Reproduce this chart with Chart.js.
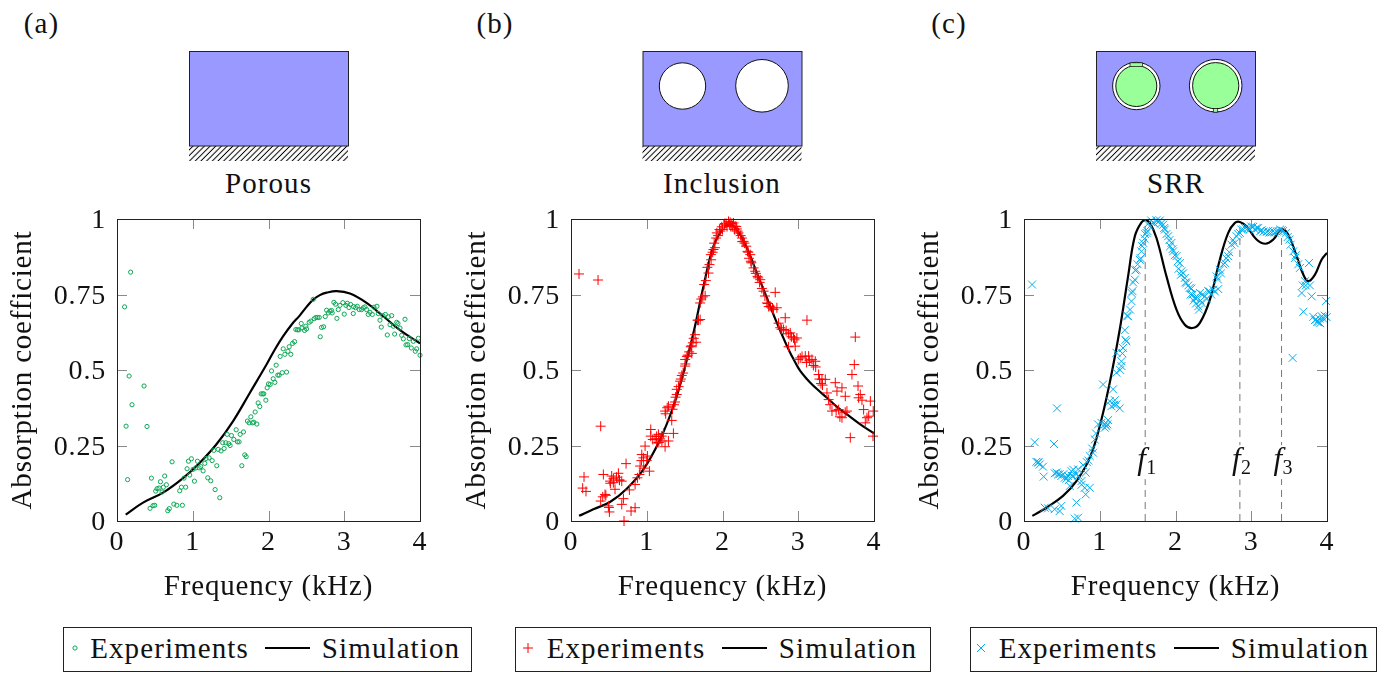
<!DOCTYPE html>
<html>
<head>
<meta charset="utf-8">
<title>Absorption coefficient</title>
<script src="https://cdn.jsdelivr.net/npm/chart.js@4"></script>
<style>
html,body{margin:0;padding:0;background:#fff;}
body{width:1396px;height:673px;position:relative;overflow:hidden;font-family:"Liberation Serif",serif;color:#111;}
canvas.plot{position:absolute;top:205px;}
.lbl{position:absolute;white-space:nowrap;transform:translate(-50%,-50%);font-size:29px;letter-spacing:1.1px;}
.legend{position:absolute;top:627px;height:45px;box-sizing:border-box;border:1px solid #222;}
svg{position:absolute;left:0;top:0;}
</style>
</head>
<body>
<svg width="1396" height="673" id="sketch"></svg>
<canvas class="plot" id="chartA" style="left:0"></canvas>
<canvas class="plot" id="chartB" style="left:454px"></canvas>
<canvas class="plot" id="chartC" style="left:907px"></canvas>
<script>
const xTicks = [0, 1, 2, 3, 4];
const yTicks = [0, 0.25, 0.5, 0.75, 1];
const panelTags = ['(a)', '(b)', '(c)'];
const panelNames = ['Porous', 'Inclusion', 'SRR'];
const xTitle = 'Frequency (kHz)';
const yTitle = 'Absorption coefficient';
const legendNames = ['Experiments', 'Simulation'];

// porous
const expFreqA = [0.10,0.18,0.16,0.357,0.198,0.12,0.396,0.14,0.454,0.436,0.476,0.498,0.67,0.69,0.75,0.79,0.863,0.511,0.529,0.555,0.573,0.595,0.612,0.652,0.63,0.727,0.828,0.85,0.907,0.885,1.022,0.96,0.925,0.943,0.982,1.004,1.04,1.062,1.084,1.106,1.137,1.159,1.176,1.216,1.256,1.317,1.198,1.238,1.295,1.357,1.278,1.335,1.374,1.414,1.396,1.436,1.476,1.493,1.454,1.511,1.542,1.573,1.59,1.612,1.626,1.67,1.687,1.705,1.648,1.722,1.744,1.767,1.789,1.806,1.846,1.824,1.863,1.885,1.903,1.925,1.938,1.965,1.982,2.0,2.022,2.04,2.062,2.084,2.101,2.123,2.141,2.181,2.238,2.154,2.194,2.216,2.256,2.273,2.295,2.317,2.344,2.361,2.383,2.401,2.432,2.441,2.476,2.502,2.493,2.537,2.559,2.59,2.604,2.626,2.648,2.67,2.683,2.7,2.727,2.749,2.767,2.789,2.811,2.833,2.841,2.863,2.885,2.903,2.921,2.943,2.982,3.0,3.022,3.04,3.062,3.084,3.119,3.123,3.15,3.172,3.198,3.229,3.251,3.273,3.295,3.317,3.339,3.37,3.392,3.432,3.449,3.471,3.489,3.511,3.542,3.568,3.581,3.626,3.604,3.648,3.665,3.692,3.709,3.736,3.758,3.78,3.802,3.815,3.837,3.859,3.885,3.912,3.938,3.956,3.978,4.0];
const expAbsA = [0.709,0.824,0.48,0.447,0.385,0.314,0.313,0.137,0.142,0.042,0.051,0.052,0.034,0.041,0.056,0.052,0.052,0.099,0.107,0.109,0.13,0.096,0.112,0.12,0.149,0.196,0.1,0.112,0.112,0.142,0.132,0.152,0.173,0.198,0.206,0.171,0.176,0.198,0.176,0.18,0.166,0.191,0.207,0.209,0.2,0.183,0.143,0.133,0.104,0.077,0.234,0.237,0.232,0.24,0.259,0.259,0.256,0.25,0.287,0.283,0.27,0.302,0.262,0.262,0.287,0.295,0.219,0.213,0.183,0.331,0.325,0.345,0.325,0.327,0.321,0.361,0.391,0.379,0.421,0.421,0.421,0.4,0.441,0.454,0.452,0.497,0.471,0.459,0.516,0.483,0.483,0.491,0.493,0.545,0.57,0.552,0.562,0.577,0.552,0.588,0.594,0.634,0.633,0.633,0.654,0.639,0.631,0.636,0.645,0.658,0.662,0.734,0.67,0.674,0.674,0.674,0.61,0.641,0.643,0.677,0.698,0.689,0.695,0.697,0.689,0.724,0.718,0.671,0.7,0.714,0.723,0.685,0.714,0.721,0.707,0.717,0.687,0.71,0.706,0.711,0.7,0.7,0.706,0.709,0.7,0.684,0.691,0.684,0.708,0.711,0.687,0.665,0.642,0.68,0.684,0.616,0.676,0.68,0.65,0.645,0.619,0.658,0.654,0.639,0.615,0.603,0.668,0.583,0.584,0.604,0.573,0.595,0.562,0.57,0.605,0.549];
const simFreqA = [0.115,0.344,0.608,0.872,1.093,1.313,1.533,1.753,1.974,2.084,2.194,2.304,2.414,2.502,2.59,2.678,2.767,2.9,3.075,3.295,3.515,3.736,4.0];
const simAbsA = [0.021,0.061,0.094,0.142,0.193,0.254,0.331,0.424,0.518,0.568,0.612,0.65,0.681,0.709,0.733,0.748,0.756,0.761,0.753,0.722,0.678,0.632,0.588];

// inclusion
const expFreqB = [0.106,0.357,0.392,0.172,0.154,0.198,0.427,0.537,0.626,0.515,0.559,0.639,0.67,0.581,0.419,0.449,0.392,0.493,0.507,0.7,0.67,0.692,0.793,0.846,0.771,0.727,0.877,0.903,0.912,0.934,0.978,0.956,1.009,1.035,0.846,1.053,1.053,1.11,1.154,1.176,1.132,1.198,1.242,1.286,1.352,1.33,1.242,1.286,1.374,1.396,1.396,1.441,1.463,1.507,1.507,1.542,1.595,1.581,1.608,1.652,1.639,1.683,1.705,1.705,1.74,1.771,1.758,1.78,1.815,1.828,1.846,1.881,1.89,1.916,1.925,1.96,1.991,2.022,2.048,2.079,2.101,2.123,2.145,2.167,2.189,2.211,2.256,2.278,2.313,2.33,2.366,2.374,2.41,2.432,2.463,2.498,2.542,2.696,2.586,2.63,2.718,2.674,2.828,3.115,2.762,2.806,2.894,2.938,2.982,2.96,2.872,3.026,3.093,3.137,3.181,3.225,3.269,3.313,3.357,3.489,3.577,3.511,3.621,3.379,3.401,3.445,3.533,3.577,3.643,3.687,3.753,3.74,3.709,3.789,3.819,3.797,3.841,3.863,3.907,3.952,3.99,3.93,3.885,3.987,
    1.72,1.67,1.62,1.59,1.56,1.53,1.51,1.48,1.45,1.42,1.38,1.36,1.34,1.27,1.25,1.8,1.85,1.87,1.9,1.94,1.97,2.0,2.03,2.06,2.09,2.11,2.13,2.16,2.18,2.2,2.24,2.26,2.29,2.34,2.35,2.38,2.44,2.47,2.49,2.52,2.56,2.6,2.61,2.66,2.74,2.78,2.84,2.87,2.91,2.95,3.0,3.05,3.11,3.15,3.2,3.23,3.28,3.3,3.32,3.42,3.5,3.55,3.62,0.56,0.6,0.64,0.52,0.46,0.5,0.93,0.96,1.0,1.08,1.13,1.16,1.2,1.22];
const expAbsB = [0.818,0.798,0.314,0.146,0.109,0.098,0.154,0.149,0.158,0.132,0.127,0.136,0.132,0.105,0.08,0.088,0.066,0.05,0.03,0,0.055,0.074,0.033,0.044,0.103,0.19,0.143,0.154,0.182,0.22,0.248,0.209,0.215,0.165,0.121,0.303,0.281,0.272,0.287,0.272,0.259,0.281,0.246,0.265,0.29,0.333,0.364,0.38,0.394,0.419,0.436,0.463,0.482,0.513,0.535,0.549,0.555,0.577,0.59,0.592,0.617,0.665,0.667,0.722,0.742,0.746,0.783,0.796,0.821,0.849,0.882,0.899,0.92,0.937,0.954,0.965,0.974,0.981,0.985,0.992,0.989,0.985,0.987,0.976,0.967,0.954,0.937,0.926,0.91,0.893,0.882,0.86,0.838,0.827,0.81,0.799,0.761,0.757,0.722,0.711,0.706,0.7,0.673,0.665,0.64,0.634,0.623,0.606,0.606,0.579,0.577,0.54,0.546,0.546,0.535,0.529,0.485,0.469,0.469,0.458,0.441,0.43,0.413,0.424,0.402,0.364,0.369,0.342,0.364,0.276,0.609,0.518,0.485,0.447,0.419,0.408,0.4,0.369,0.342,0.397,0.364,0.347,0.325,0.281,
    0.735,0.665,0.605,0.58,0.56,0.545,0.52,0.49,0.47,0.445,0.41,0.385,0.37,0.375,0.355,0.84,0.865,0.89,0.905,0.945,0.96,0.965,0.985,0.975,0.98,0.975,0.975,0.965,0.975,0.96,0.945,0.925,0.92,0.89,0.87,0.855,0.82,0.805,0.79,0.77,0.745,0.72,0.71,0.705,0.655,0.635,0.63,0.62,0.61,0.6,0.535,0.545,0.525,0.53,0.515,0.51,0.47,0.455,0.45,0.385,0.365,0.345,0.36,0.14,0.145,0.135,0.125,0.085,0.045,0.2,0.175,0.2,0.27,0.28,0.26,0.265,0.29];
const simFreqB = [0.106,0.295,0.515,0.736,0.956,1.176,1.352,1.485,1.617,1.749,1.881,2.013,2.093,2.189,2.322,2.454,2.586,2.718,2.85,2.916,2.982,3.026,3.093,3.159,3.247,3.379,3.511,3.643,3.819,4.0];
const simAbsB = [0.017,0.039,0.063,0.107,0.171,0.27,0.38,0.491,0.623,0.777,0.91,0.97,0.981,0.965,0.904,0.821,0.739,0.656,0.58,0.546,0.515,0.497,0.476,0.458,0.437,0.408,0.378,0.353,0.32,0.29];

// srr
const expFreqC = [0.106,0.141,0.436,0.396,0.163,0.185,0.207,0.251,0.26,0.405,0.449,0.493,0.537,0.581,0.626,0.648,0.714,0.604,0.273,0.317,0.405,0.471,0.493,0.692,0.67,0.714,0.758,0.815,0.802,0.868,0.815,0.868,0.912,0.934,0.978,1.022,1.11,1.066,1.088,1.044,1.176,1.132,1.154,1.22,1.264,1.286,1.22,1.286,1.22,1.308,1.352,1.33,1.374,1.419,1.432,1.463,1.485,1.529,1.551,1.573,1.617,1.661,1.705,1.749,1.793,1.837,1.859,1.903,1.947,1.969,2.013,2.057,2.079,2.123,2.145,2.189,2.225,2.256,2.3,2.344,2.322,2.388,2.432,2.498,2.564,2.542,2.586,2.652,2.696,2.74,2.806,2.85,2.894,2.96,3.026,3.07,3.137,3.203,3.269,3.335,3.401,3.458,3.502,3.555,3.577,3.643,3.762,3.709,3.775,3.665,3.797,3.687,3.546,3.987,3.819,3.855,3.885,3.93,3.996,
    1.64,1.68,1.72,1.77,1.81,1.85,1.88,1.92,1.93,1.96,1.99,2.03,2.04,2.07,2.10,2.13,2.17,2.2,2.21,2.24,2.27,2.29,2.31,2.33,2.36,2.41,2.45,2.47,2.52,2.56,2.6,2.63,2.67,2.71,2.76,2.78,2.83,2.87,2.92,2.98,3.0,3.05,3.09,3.12,3.16,3.22,3.24,3.29,3.31,3.36,3.38,3.42,3.48,3.52,3.59,3.62,3.68,3.72,3.84,3.87,3.9,3.91,3.95,3.97,
    1.30,1.34,1.36,1.40,1.42,1.44,1.47,1.5,1.54,1.56,1.59,1.6,1.63,1.27,1.19,1.2,1.1,1.07,0.95,0.9,0.85,0.83,0.78,0.76,0.72,0.65,0.63,0.59,0.56,0.52,0.47,0.43,0.19,0.69];
const expAbsC = [0.783,0.261,0.373,0.255,0.196,0.193,0.187,0.18,0.147,0.158,0.154,0.149,0.143,0.149,0.165,0.149,0.171,0.116,0.044,0.042,0.039,0.033,0.05,0.061,0.008,0.011,0.132,0.16,0.11,0.11,0.088,0.215,0.226,0.27,0.32,0.325,0.334,0.309,0.314,0.452,0.436,0.397,0.38,0.386,0.373,0.513,0.491,0.529,0.557,0.573,0.595,0.632,0.678,0.728,0.761,0.799,0.832,0.865,0.893,0.921,0.954,0.976,0.989,0.996,0.995,0.981,0.965,0.943,0.921,0.893,0.877,0.854,0.827,0.805,0.788,0.772,0.75,0.739,0.711,0.722,0.755,0.744,0.761,0.766,0.768,0.81,0.832,0.854,0.877,0.915,0.943,0.954,0.965,0.97,0.974,0.97,0.963,0.957,0.956,0.959,0.963,0.954,0.932,0.893,0.871,0.838,0.854,0.794,0.78,0.755,0.744,0.693,0.54,0.728,0.676,0.667,0.658,0.678,0.675,
    0.985,0.995,0.985,0.99,0.985,0.97,0.95,0.93,0.91,0.90,0.88,0.86,0.835,0.815,0.82,0.79,0.78,0.75,0.77,0.73,0.72,0.74,0.70,0.73,0.75,0.735,0.76,0.75,0.76,0.80,0.82,0.85,0.87,0.89,0.93,0.92,0.95,0.965,0.97,0.965,0.975,0.965,0.97,0.96,0.958,0.96,0.955,0.96,0.955,0.96,0.965,0.96,0.94,0.915,0.88,0.85,0.78,0.78,0.665,0.66,0.67,0.655,0.67,0.68,
    0.555,0.60,0.68,0.70,0.755,0.79,0.83,0.85,0.87,0.91,0.935,0.95,0.96,0.5,0.385,0.40,0.32,0.32,0.29,0.24,0.2,0.195,0.185,0.12,0.15,0.17,0.15,0.135,0.14,0.155,0.155,0.16,0.195,0.155];
const simFreqC = [0.11,0.295,0.515,0.692,0.868,1.0,1.132,1.264,1.374,1.463,1.551,1.604,1.661,1.749,1.881,2.013,2.123,2.225,2.322,2.454,2.586,2.696,2.784,2.85,2.938,3.07,3.189,3.291,3.401,3.489,3.599,3.687,3.753,3.841,3.93,4.0];
const simAbsC = [0.017,0.044,0.083,0.132,0.209,0.314,0.458,0.634,0.81,0.943,0.989,0.996,0.987,0.937,0.81,0.7,0.65,0.639,0.656,0.733,0.866,0.954,0.987,0.99,0.976,0.932,0.918,0.932,0.965,0.948,0.877,0.816,0.794,0.816,0.866,0.888];

const resonanceFreq = [1.6, 2.85, 3.4];
const resonanceTop = [0.99, 0.97, 0.97];
const resonanceNames = ['1', '2', '3'];

const GREEN = '#0aa854';
const RED = '#ff0000';
const BLUE = '#00aeef';
const SERIF = '"Liberation Serif", serif';

function zip(xs, ys){
    return xs.map((x, i) => ({x: x, y: ys[i]}));
}

// inward gray ticks on all four sides + the box
const framePlugin = {
    id: 'frame',
    beforeDraw(chart){
        chart.ctx.letterSpacing = '0.8px';
    },
    afterDatasetsDraw(chart){
        const c = chart.ctx, a = chart.chartArea, sx = chart.scales.x, sy = chart.scales.y;
        c.save();
        c.strokeStyle = '#8a8a8a';
        c.lineWidth = 1;
        xTicks.forEach(t => {
            if(t === 0 || t === 4) return;
            const p = Math.round(sx.getPixelForValue(t)) + .5;
            c.beginPath();
            c.moveTo(p, a.top); c.lineTo(p, a.top + 10);
            c.moveTo(p, a.bottom); c.lineTo(p, a.bottom - 10);
            c.stroke();
        });
        yTicks.forEach(t => {
            if(t === 0 || t === 1) return;
            const p = Math.round(sy.getPixelForValue(t)) + .5;
            c.beginPath();
            c.moveTo(a.left, p); c.lineTo(a.left + 10, p);
            c.moveTo(a.right, p); c.lineTo(a.right - 10, p);
            c.stroke();
        });
        c.strokeStyle = '#222';
        c.lineWidth = 1;
        c.strokeRect(a.left + .5, a.top + .5, a.right - a.left, a.bottom - a.top);
        c.restore();
    }
};

// f1 f2 f3 labels on the srr plot
const resonancePlugin = {
    id: 'resonance',
    afterDatasetsDraw(chart){
        if(chart.canvas.id !== 'chartC') return;
        const c = chart.ctx, sx = chart.scales.x, sy = chart.scales.y;
        resonanceFreq.forEach((f, i) => {
            const px = sx.getPixelForValue(f), py = sy.getPixelForValue(0.195);
            c.save();
            c.fillStyle = '#fff';
            c.fillRect(px - 13, py - 17, 26, 34);
            c.fillStyle = '#111';
            c.textBaseline = 'alphabetic';
            c.font = 'italic 31px ' + SERIF;
            c.fillText('f', px - 8, py + 7);
            c.font = '20px ' + SERIF;
            c.fillText(resonanceNames[i], px + 1, py + 12);
            c.restore();
        });
    }
};

function makeChart(id, freq, abs, simFreq, simAbs, style, color, radius, extra){
    const sets = [
        {
            label: legendNames[0], data: zip(freq, abs), showLine: false, clip: false, order: 2,
            pointStyle: style, pointRadius: radius, pointBorderColor: color, pointBorderWidth: 1,
            pointBackgroundColor: 'rgba(0,0,0,0)'
        },
        {
            label: legendNames[1], data: zip(simFreq, simAbs), showLine: true, order: 3,
            borderColor: '#000', borderWidth: 2.2, pointRadius: 0, tension: 0.4
        }
    ].concat(extra || []);
    return new Chart(document.getElementById(id), {
        type: 'scatter',
        data: {datasets: sets},
        plugins: [framePlugin, resonancePlugin],
        options: {
            responsive: false,
            animation: false,
            layout: {padding: {left: 0, right: 34, top: 14, bottom: 0}},
            plugins: {legend: {display: false}, tooltip: {enabled: false}},
            scales: {
                x: {
                    type: 'linear', min: 0, max: 4,
                    afterBuildTicks(s){ s.ticks = xTicks.map(v => ({value: v})); },
                    afterFit(s){ s.height = 94; s.paddingLeft = 0; s.paddingRight = 0; },
                    grid: {display: false, drawTicks: false},
                    border: {display: false},
                    ticks: {padding: 5, maxRotation: 0, autoSkip: false, color: '#111', font: {family: SERIF, size: 28}, callback: v => String(v)},
                    title: {display: true, text: xTitle, color: '#111', font: {family: SERIF, size: 29}, padding: {top: 0, bottom: 10}}
                },
                y: {
                    type: 'linear', min: 0, max: 1,
                    afterBuildTicks(s){ s.ticks = yTicks.map(v => ({value: v})); },
                    afterFit(s){ s.width = 117; s.paddingTop = 0; s.paddingBottom = 0; },
                    grid: {display: false, drawTicks: false},
                    border: {display: false},
                    ticks: {padding: 11, labelOffset: 2, autoSkip: false, color: '#111', font: {family: SERIF, size: 28}, callback: v => String(v)},
                    title: {display: true, text: yTitle, color: '#111', font: {family: SERIF, size: 29}, padding: {top: 6, bottom: 0}}
                }
            }
        }
    });
}

['chartA', 'chartB', 'chartC'].forEach(id => {
    const el = document.getElementById(id);
    el.width = 454;
    el.height = 410;
    el.style.width = '454px';
    el.style.height = '410px';
});

makeChart('chartA', expFreqA, expAbsA, simFreqA, simAbsA, 'circle', GREEN, 2.1);
makeChart('chartB', expFreqB, expAbsB, simFreqB, simAbsB, 'cross', RED, 5);
makeChart('chartC', expFreqC, expAbsC, simFreqC, simAbsC, 'crossRot', BLUE, 5.6,
    resonanceFreq.map((f, i) => ({
        data: zip([f, f], [0, resonanceTop[i]]), showLine: true, order: 4,
        borderColor: '#777', borderWidth: 1, borderDash: [7, 5], pointRadius: 0
    })));

// schematics above the plots, not part of the data
const NS = 'http://www.w3.org/2000/svg';
const sketch = document.getElementById('sketch');
function el(name, attrs, parent){
    const e = document.createElementNS(NS, name);
    for(const k in attrs) e.setAttribute(k, attrs[k]);
    (parent || sketch).appendChild(e);
    return e;
}
const defs = el('defs', {});
const pat = el('pattern', {id: 'hatch', width: 4.03, height: 4.03, patternUnits: 'userSpaceOnUse', patternTransform: 'rotate(45)'}, defs);
el('line', {x1: 2, y1: 0, x2: 2, y2: 4.03, stroke: '#000', 'stroke-width': 1}, pat);

function block(x){
    el('rect', {x: x, y: 146, width: 159, height: 15, fill: 'url(#hatch)'});
    el('rect', {x: x + .5, y: 51.5, width: 159, height: 94.5, fill: '#9999ff', stroke: '#222', 'stroke-width': 1});
}
function hole(cx, cy, r){
    el('circle', {cx: cx, cy: cy, r: r, fill: '#fff', stroke: '#111', 'stroke-width': 1});
}
function ring(cx, cy, r, tabX, tabY, tabW, tabH){
    hole(cx, cy, r);
    el('circle', {cx: cx, cy: cy, r: r - 3.2, fill: '#99ff99', stroke: '#111', 'stroke-width': 1});
    el('rect', {x: tabX, y: tabY, width: tabW, height: tabH, fill: '#99ff99', stroke: '#111', 'stroke-width': .7});
}
block(189);
block(642.5);
hole(682.5, 86, 23.2);
hole(762, 85.8, 26.3);
block(1096);
ring(1136.3, 86, 23.7, 1130, 62.8, 12.6, 3.8);
ring(1215.7, 85.7, 26.3, 1213.3, 108.6, 4.4, 3.6);

function label(text, x, y, size){
    const d = document.createElement('div');
    d.className = 'lbl';
    d.textContent = text;
    d.style.left = x + 'px';
    d.style.top = y + 'px';
    if(size) d.style.fontSize = size + 'px';
    document.body.appendChild(d);
}
[41.5, 495, 949].forEach((x, i) => label(panelTags[i], x, 23));
[268.5, 722, 1176].forEach((x, i) => label(panelNames[i], x, 183));

// legends
const legendBoxes = [
    {left: 63, right: 472, mark: 75, exp: 169.5, line: 265, sim: 391},
    {left: 515, right: 931, mark: 528, exp: 626, line: 722, sim: 848},
    {left: 970, right: 1377, mark: 981, exp: 1078, line: 1174, sim: 1300}
];
const LEG_Y = 648;
legendBoxes.forEach((b, i) => {
    const d = document.createElement('div');
    d.className = 'legend';
    d.style.left = b.left + 'px';
    d.style.width = (b.right - b.left) + 'px';
    document.body.appendChild(d);
    label(legendNames[0], b.exp, LEG_Y);
    label(legendNames[1], b.sim, LEG_Y);
    el('line', {x1: b.line, y1: LEG_Y, x2: b.line + 45, y2: LEG_Y, stroke: '#000', 'stroke-width': 2.2});
    if(i === 0){
        el('circle', {cx: b.mark, cy: LEG_Y, r: 2.1, fill: 'none', stroke: GREEN, 'stroke-width': 1});
    } else if(i === 1){
        el('path', {d: `M${b.mark - 5} ${LEG_Y}H${b.mark + 5}M${b.mark} ${LEG_Y - 5}V${LEG_Y + 5}`, stroke: RED, 'stroke-width': 1, fill: 'none'});
    } else {
        el('path', {d: `M${b.mark - 4} ${LEG_Y - 4}L${b.mark + 4} ${LEG_Y + 4}M${b.mark - 4} ${LEG_Y + 4}L${b.mark + 4} ${LEG_Y - 4}`, stroke: BLUE, 'stroke-width': 1, fill: 'none'});
    }
});
</script>
</body>
</html>
